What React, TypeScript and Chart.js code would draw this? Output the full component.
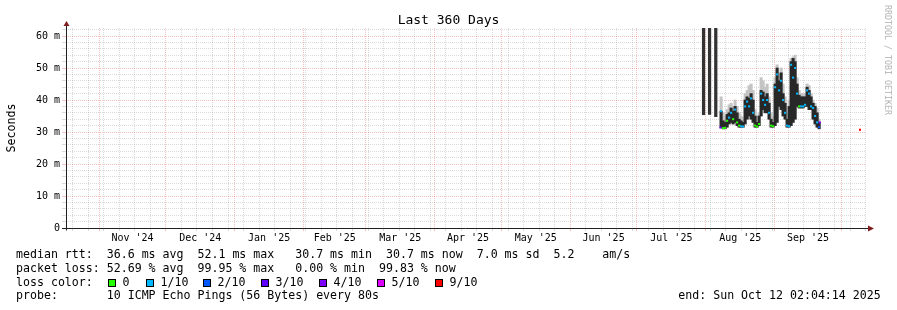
import React, { useEffect, useRef } from "react";
import { Chart, registerables } from "chart.js";

Chart.register(...registerables);

// ---- time window -------------------------------------------------------
const END_TIME = "2025-10-12T02:04:14Z";
const SPAN_DAYS = 360;

const monthBoundaries = [
  "2024-11-01", "2024-12-01", "2025-01-01", "2025-02-01", "2025-03-01", "2025-04-01",
  "2025-05-01", "2025-06-01", "2025-07-01", "2025-08-01", "2025-09-01", "2025-10-01",
];
const monthLabels = [
  "Nov '24", "Dec '24", "Jan '25", "Feb '25", "Mar '25", "Apr '25",
  "May '25", "Jun '25", "Jul '25", "Aug '25", "Sep '25",
];
const firstSunday = "2024-10-20";

// ---- value axis --------------------------------------------------------
const Y_MAX = 62.5;
const yMajorValues = [0, 10, 20, 30, 40, 50, 60];
const yTickLabels = ["0", "10 m", "20 m", "30 m", "40 m", "50 m", "60 m"];

// ---- data (x = days since window start, y = milliseconds) -------------
const burstDays = [286.9, 289.6, 292.4];
const burstLow = [35.4, 35.5, 34.8];
const burstHigh = [62.5, 62.5, 62.5];

const days = [
  294.8, 295.7, 296.6, 297.5, 298.4, 299.3, 300.2, 301.1, 302.0, 302.9,
  303.8, 304.7, 305.6, 306.5, 307.4, 308.3, 309.2, 310.1, 311.0, 311.9,
  312.8, 313.7, 314.6, 315.5, 316.4, 317.3, 318.2, 319.1, 320.0, 320.9,
  321.8, 322.7, 323.6, 324.5, 325.4, 326.3, 327.2, 328.1, 329.0, 329.9,
  330.8, 331.7, 332.6, 333.5, 334.4, 335.3, 336.2, 337.1, 338.0, 338.9,
];
const spreadLow = [
  31.5, 31.0, 31.0, 31.5, 32.5, 33.0, 32.5, 33.0, 32.0, 31.5,
  31.5, 31.5, 32.5, 34.0, 35.0, 34.0, 33.0, 31.5, 31.5, 32.0,
  35.0, 37.0, 36.0, 36.0, 34.0, 31.5, 31.5, 32.0, 33.0, 38.0,
  37.0, 35.0, 34.0, 31.5, 31.5, 32.0, 33.0, 34.0, 38.0, 37.5,
  37.5, 37.5, 38.0, 38.0, 37.0, 37.0, 34.0, 32.5, 31.5, 31.0,
];
const spreadHigh = [
  36.5, 33.5, 33.0, 35.5, 36.0, 37.5, 36.5, 38.0, 36.0, 34.0,
  33.5, 33.0, 40.0, 41.0, 40.5, 42.0, 40.0, 35.0, 33.0, 35.0,
  43.0, 42.5, 41.0, 42.0, 39.0, 34.0, 33.0, 45.0, 50.0, 46.0,
  48.5, 42.0, 39.0, 34.0, 38.0, 52.0, 53.0, 52.0, 45.0, 41.5,
  41.0, 41.0, 41.0, 44.0, 43.0, 41.0, 39.0, 38.0, 36.0, 33.0,
];
const smokeHigh = [
  41.0, 36.0, 35.0, 37.0, 38.5, 39.0, 38.0, 40.0, 38.0, 36.0,
  35.0, 34.5, 42.0, 43.0, 44.5, 45.0, 43.0, 37.0, 35.0, 36.0,
  47.0, 46.0, 44.0, 45.0, 41.0, 36.0, 35.0, 47.0, 51.0, 48.0,
  50.0, 45.0, 41.0, 36.0, 40.0, 53.0, 53.5, 54.0, 47.0, 43.0,
  42.0, 42.0, 42.0, 45.0, 44.5, 42.0, 40.0, 39.0, 37.5, 34.0,
];
const median = [
  36.5, 31.2, 31.3, 33.5, 34.5, 36.0, 34.0, 37.0, 33.0, 32.0,
  31.8, 31.7, 38.0, 39.5, 38.0, 40.5, 36.0, 32.0, 31.7, 32.5,
  42.0, 40.0, 38.5, 40.0, 36.0, 32.0, 31.8, 44.0, 48.0, 43.0,
  46.0, 40.0, 36.0, 32.0, 31.8, 51.0, 47.0, 50.0, 42.0, 38.0,
  38.0, 38.0, 38.5, 43.0, 42.0, 38.0, 37.5, 35.0, 33.0, 31.5,
];
const medianLoss = [
  1, 0, 0, 0, 1, 1, 0, 1, 0, 0,
  1, 1, 1, 1, 1, 1, 1, 0, 0, 0,
  1, 1, 1, 1, 1, 0, 0, 1, 1, 1,
  1, 1, 1, 1, 1, 1, 1, 1, 1, 0,
  1, 1, 1, 1, 1, 1, 1, 1, 1, 2,
];
const extraDays = [294.5, 339.2, 357.3];
const extraMedian = [31.4, 33.0, 30.7];
const extraLoss = [3, 4, 9];

// ---- legend ------------------------------------------------------------
const lossLegendLabels = ["0", "1/10", "2/10", "3/10", "4/10", "5/10", "9/10"];
const lossLegendTenths = [0, 1, 2, 3, 4, 5, 9];
const lossColors: Record<number, string> = {
  0: "#26ff00", 1: "#00b8ff", 2: "#0059ff", 3: "#5e00ff", 4: "#7e00ff", 5: "#dd00ff", 9: "#ff0000",
};
const rttLine = "median rtt:  36.6 ms avg  52.1 ms max   30.7 ms min  30.7 ms now  7.0 ms sd  5.2    am/s";
const lossLine = "packet loss: 52.69 % avg  99.95 % max   0.00 % min  99.83 % now";
const probeLine = "probe:       10 ICMP Echo Pings (56 Bytes) every 80s";
const endLine = "end: Sun Oct 12 02:04:14 2025";

// ---- styling -------------------------------------------------------------
const MONO = '"DejaVu Sans Mono", monospace';
const GRID = "rgba(140,140,140,0.32)";
const MGRID = "rgba(225,70,70,0.34)";
const AXIS = "#202020";
const ARROW = "#801f1f";

const DAY_MS = 86400000;
const endMs = Date.parse(END_TIME);
const startMs = endMs - SPAN_DAYS * DAY_MS;
const dayOf = (iso: string) => (Date.parse(iso + "T00:00:00Z") - startMs) / DAY_MS;

function buildXTicks() {
  const majors = monthBoundaries.map(dayOf);
  const ticks: any[] = [];
  for (let d = dayOf(firstSunday); d < SPAN_DAYS; d += 7) {
    if (!majors.some((m) => Math.abs(m - d) < 0.01)) ticks.push({ value: d, kind: "minor", text: "" });
  }
  majors.forEach((m) => ticks.push({ value: m, kind: "major", text: "" }));
  monthLabels.forEach((lab, i) =>
    ticks.push({ value: (majors[i] + majors[i + 1]) / 2, kind: "label", text: lab })
  );
  ticks.sort((a, b) => a.value - b.value);
  return ticks;
}

function buildYTicks() {
  const ticks: any[] = [];
  for (let v = 0; v <= Y_MAX; v += 2) {
    const mi = yMajorValues.indexOf(v);
    ticks.push({ value: v, kind: mi >= 0 ? "major" : "minor", text: mi >= 0 ? yTickLabels[mi] : "" });
  }
  return ticks;
}

const gridColor = (ctx: any) => {
  const k = ctx.tick && ctx.tick.kind;
  return k === "major" ? MGRID : k === "minor" ? GRID : "rgba(0,0,0,0)";
};

const axesPlugin = {
  id: "rrdAxes",
  afterDatasetsDraw(chart: any) {
    const { ctx, chartArea: a } = chart;
    const yBase = Math.round(chart.scales.y.getPixelForValue(0)) + 0.5;
    const xLeft = Math.round(a.left) + 0.5;
    ctx.save();
    ctx.strokeStyle = AXIS;
    ctx.lineWidth = 1;
    ctx.setLineDash([]);
    ctx.beginPath();
    ctx.moveTo(xLeft, yBase + 2);
    ctx.lineTo(xLeft, a.top - 3);
    ctx.moveTo(a.left - 4, yBase);
    ctx.lineTo(a.right + 3, yBase);
    ctx.stroke();
    ctx.fillStyle = ARROW;
    ctx.beginPath();
    ctx.moveTo(xLeft - 3, a.top - 2);
    ctx.lineTo(xLeft + 3, a.top - 2);
    ctx.lineTo(xLeft, a.top - 7);
    ctx.closePath();
    ctx.fill();
    ctx.beginPath();
    ctx.moveTo(a.right + 2, yBase - 3);
    ctx.lineTo(a.right + 2, yBase + 3);
    ctx.lineTo(a.right + 8, yBase);
    ctx.closePath();
    ctx.fill();
    ctx.restore();
  },
};

export default function App() {
  const ref = useRef<HTMLCanvasElement>(null);

  useEffect(() => {
    const canvas = ref.current;
    if (!canvas) return;
    const xTicks = buildXTicks();
    const yTicks = buildYTicks();

    const medPoints = days.map((d, i) => ({ x: d, y: median[i] }))
      .concat(extraDays.map((d, i) => ({ x: d, y: extraMedian[i] })));
    const medColors = medianLoss.map((l) => lossColors[l]).concat(extraLoss.map((l) => lossColors[l]));

    const chart = new Chart(canvas, {
      type: "bar",
      data: {
        datasets: [
          {
            type: "bar",
            label: "smoke",
            data: days.map((d, i) => ({ x: d, y: [spreadLow[i], smokeHigh[i]] })) as any,
            backgroundColor: "#c4c4c4",
            borderWidth: 0,
            barThickness: 2.4,
            grouped: false,
            order: 3,
          } as any,
          {
            type: "bar",
            label: "spread",
            data: days.map((d, i) => ({ x: d, y: [spreadLow[i], spreadHigh[i]] })) as any,
            backgroundColor: "#282828",
            borderWidth: 0,
            barThickness: 2.4,
            grouped: false,
            order: 2,
          } as any,
          {
            type: "bar",
            label: "burst",
            data: burstDays.map((d, i) => ({ x: d, y: [burstLow[i], burstHigh[i]] })) as any,
            backgroundColor: "#333333",
            borderWidth: 0,
            barThickness: 2.6,
            grouped: false,
            order: 2,
          } as any,
          {
            type: "scatter",
            label: "median",
            data: medPoints as any,
            pointStyle: "rect",
            pointRadius: 1.45,
            pointBorderWidth: 0,
            pointBackgroundColor: medColors,
            order: 0,
          } as any,
        ],
      },
      options: {
        animation: false,
        responsive: false,
        devicePixelRatio: 1,
        events: [],
        layout: { padding: { top: 28, right: 31, left: 0, bottom: 0 } },
        plugins: { legend: { display: false }, tooltip: { enabled: false }, title: { display: false } },
        scales: {
          x: {
            type: "linear",
            min: 0,
            max: SPAN_DAYS,
            offset: false,
            afterBuildTicks: (s: any) => { s.ticks = xTicks.map((t) => ({ ...t })); },
            afterFit: (s: any) => { s.height = 82; },
            ticks: {
              autoSkip: false,
              maxRotation: 0,
              minRotation: 0,
              padding: 1,
              color: "#000",
              font: { family: MONO, size: 10 },
              callback: (_v: any, i: number, t: any[]) => (t[i] && t[i].text) || "",
            },
            grid: {
              offset: false,
              color: gridColor,
              lineWidth: 1,
              drawTicks: true,
              tickLength: 3,
              tickColor: gridColor,
            },
            border: { display: false, dash: [1, 1] },
          } as any,
          y: {
            type: "linear",
            min: 0,
            max: Y_MAX,
            afterBuildTicks: (s: any) => { s.ticks = yTicks.map((t) => ({ ...t })); },
            afterFit: (s: any) => { s.width = 66; },
            ticks: {
              autoSkip: false,
              padding: 2,
              color: "#000",
              font: { family: MONO, size: 10 },
              callback: (_v: any, i: number, t: any[]) => (t[i] && t[i].text) || "",
            },
            grid: {
              color: gridColor,
              lineWidth: 1,
              drawTicks: true,
              tickLength: 4,
              tickColor: gridColor,
            },
            border: { display: false, dash: [1, 1] },
          } as any,
        },
      },
      plugins: [axesPlugin as any],
    });
    return () => chart.destroy();
  }, []);

  const lineStyle = (top: number): React.CSSProperties => ({
    position: "absolute", left: 16, top, fontSize: "11.6px", lineHeight: "14px", whiteSpace: "pre",
  });
  const squareX = [108, 146, 203, 261, 319, 377, 435];

  return (
    <div style={{ position: "absolute", left: 0, top: 0, width: 897, height: 310, background: "#fff", overflow: "hidden", fontFamily: MONO, color: "#000" }}>
      <canvas ref={ref} width={897} height={310} style={{ position: "absolute", left: 0, top: 0, width: 897, height: 310 }} />
      <div style={{ position: "absolute", left: 0, top: 12, width: 897, textAlign: "center", fontSize: "13px", lineHeight: "15px", whiteSpace: "pre" }}>Last 360 Days</div>
      <div style={{ position: "absolute", left: 10.5 - 100, top: 128 - 7, width: 200, height: 14, textAlign: "center", fontSize: "11.6px", lineHeight: "14px", transform: "rotate(-90deg)" }}>Seconds</div>
      <div style={{ position: "absolute", left: 888 - 100, top: 59.5 - 5, width: 200, height: 10, textAlign: "center", fontSize: "8.3px", lineHeight: "10px", color: "#b4b4b4", whiteSpace: "pre", transform: "rotate(90deg)" }}>RRDTOOL / TOBI OETIKER</div>
      <div style={lineStyle(247)}>{rttLine}</div>
      <div style={lineStyle(261)}>{lossLine}</div>
      <div style={lineStyle(274.5)}>loss color:</div>
      {lossLegendLabels.map((lab, i) => (
        <React.Fragment key={lab}>
          <div style={{ position: "absolute", left: squareX[i], top: 278.5, width: 8, height: 8, boxSizing: "border-box", border: "1px solid #000", background: lossColors[lossLegendTenths[i]] }} />
          <div style={{ ...lineStyle(274.5), left: squareX[i] + 14.5 }}>{lab}</div>
        </React.Fragment>
      ))}
      <div style={lineStyle(288)}>{probeLine}</div>
      <div style={{ ...lineStyle(288), left: undefined, right: 16.3 }}>{endLine}</div>
    </div>
  );
}
